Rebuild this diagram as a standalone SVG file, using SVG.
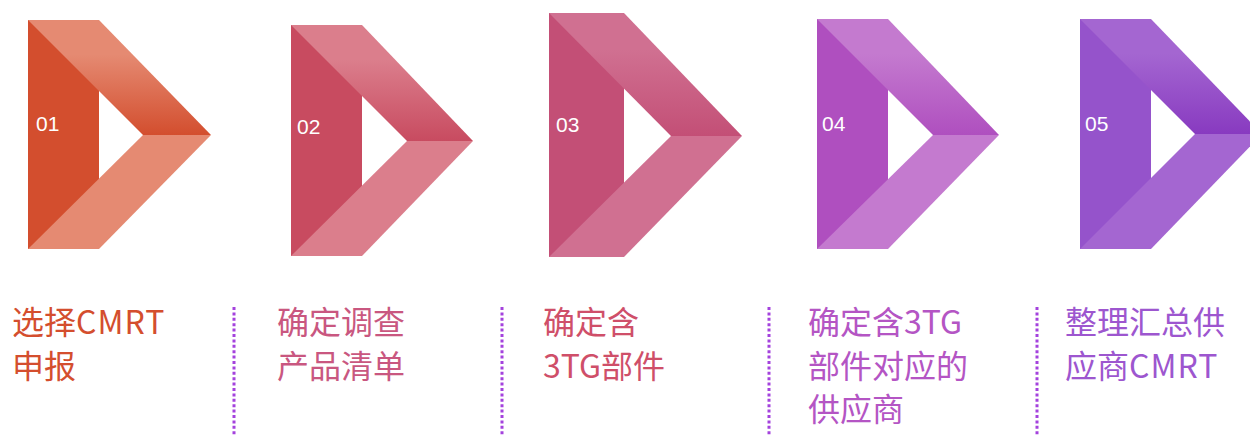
<svg xmlns="http://www.w3.org/2000/svg" width="1250" height="436" viewBox="0 0 1250 436">
<defs>
<linearGradient id="g1" x1="0" y1="0" x2="0" y2="1"><stop offset="0.3" stop-color="#E58A72"/><stop offset="1" stop-color="#D34E2E"/></linearGradient>
<linearGradient id="g2" x1="0" y1="0" x2="0" y2="1"><stop offset="0.3" stop-color="#DB7E8C"/><stop offset="1" stop-color="#C84B60"/></linearGradient>
<linearGradient id="g3" x1="0" y1="0" x2="0" y2="1"><stop offset="0.3" stop-color="#D07091"/><stop offset="1" stop-color="#C34F76"/></linearGradient>
<linearGradient id="g4" x1="0" y1="0" x2="0" y2="1"><stop offset="0.3" stop-color="#C47ACF"/><stop offset="1" stop-color="#AF4FBF"/></linearGradient>
<linearGradient id="g5" x1="0" y1="0" x2="0" y2="1"><stop offset="0.3" stop-color="#A466D1"/><stop offset="1" stop-color="#883AC0"/></linearGradient>
</defs>
<style>
.num{font-family:"Liberation Sans",Arial,sans-serif;font-size:21px;fill:#ffffff}
.lbl{font-family:"Noto Sans CJK SC","Noto Sans",sans-serif;font-size:32px}
.lat{letter-spacing:1px}
.div{stroke:#A442DD;stroke-width:3;stroke-dasharray:3 2.4;fill:none}
</style>

<g id="step1">
<rect x="28" y="20" width="71" height="229" fill="#D34E2E"/>
<polygon points="28,20 99,20 211,135 143,135" fill="url(#g1)"/>
<polygon points="143,135 211,135 99,249 28,249" fill="#E58A72"/>
<text class="num" x="36" y="131">01</text>
<text class="lbl" fill="#D44E2E"><tspan x="12" y="334">选择<tspan class="lat">CMRT</tspan></tspan><tspan x="12" y="378">申报</tspan></text>
</g>

<g id="step2">
<rect x="291" y="25" width="71" height="231" fill="#C84B60"/>
<polygon points="291,25 362,25 473,141 407,141" fill="url(#g2)"/>
<polygon points="407,141 473,141 362,256 291,256" fill="#DB7E8C"/>
<text class="num" x="297" y="134">02</text>
<text class="lbl" fill="#C95780"><tspan x="277" y="334">确定调查</tspan><tspan x="277" y="378">产品清单</tspan></text>
</g>

<g id="step3">
<rect x="549" y="13" width="75" height="244" fill="#C34F76"/>
<polygon points="549,13 624,13 742,136 671,136" fill="url(#g3)"/>
<polygon points="671,136 742,136 624,257 549,257" fill="#D07091"/>
<text class="num" x="556" y="132">03</text>
<text class="lbl" fill="#CF4F69"><tspan x="543" y="334">确定含</tspan><tspan x="543" y="378">3TG部件</tspan></text>
</g>

<g id="step4">
<rect x="817" y="19" width="71" height="230" fill="#AF4FBF"/>
<polygon points="817,19 888,19 999,135 933,135" fill="url(#g4)"/>
<polygon points="933,135 999,135 888,249 817,249" fill="#C47ACF"/>
<text class="num" x="822" y="131">04</text>
<text class="lbl" fill="#B455C4"><tspan x="808" y="334">确定含3TG</tspan><tspan x="808" y="378">部件对应的</tspan><tspan x="808" y="421">供应商</tspan></text>
</g>

<g id="step5">
<rect x="1080" y="19" width="71" height="230" fill="#9553CB"/>
<polygon points="1080,19 1151,19 1262,134 1195,134" fill="url(#g5)"/>
<polygon points="1195,134 1262,134 1151,249 1080,249" fill="#A466D1"/>
<text class="num" x="1085" y="131">05</text>
<text class="lbl" fill="#9D56CF"><tspan x="1065" y="334">整理汇总供</tspan><tspan x="1065" y="378">应商<tspan class="lat">CMRT</tspan></tspan></text>
</g>

<g id="connectors">
<line class="div" x1="234" y1="307" x2="234" y2="436"/>
<line class="div" x1="502" y1="307" x2="502" y2="436"/>
<line class="div" x1="769" y1="307" x2="769" y2="436"/>
<line class="div" x1="1037" y1="307" x2="1037" y2="436"/>
</g>
</svg>
